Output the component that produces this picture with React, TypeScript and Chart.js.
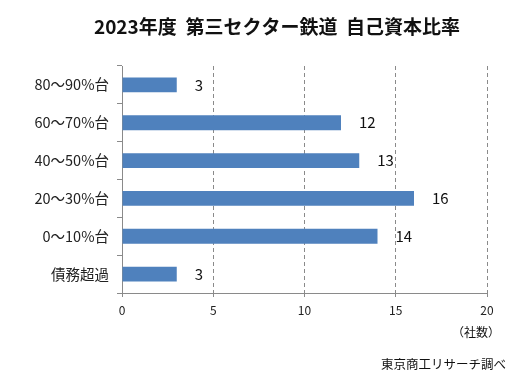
import React, { useEffect, useRef } from "react";
import { Chart, registerables } from "chart.js";

Chart.register(...registerables);

const categories = ["80～90%台", "60～70%台", "40～50%台", "20～30%台", "0～10%台", "債務超過"];
const companyCounts = [3, 12, 13, 16, 14, 3];
const xTicks = [0, 5, 10, 15, 20];
const titleText = "2023年度  第三セクター鉄道  自己資本比率";
const unitText = "（社数）";
const sourceText = "東京商工リサーチ調べ";

const FONT = "'Noto Sans CJK JP', 'Noto Sans', sans-serif";

const textPlugin = {
  id: "textPlugin",
  afterDatasetsDraw(chart: any) {
    const ctx = chart.ctx;
    const meta = chart.getDatasetMeta(0);
    ctx.save();
    ctx.fillStyle = "#111";
    ctx.font = `15px ${FONT}`;
    ctx.textAlign = "left";
    ctx.textBaseline = "middle";
    meta.data.forEach((el: any, i: number) => {
      ctx.fillText(String(companyCounts[i]), el.x + 18, el.y);
    });
    ctx.restore();
  },
  afterDraw(chart: any) {
    const ctx = chart.ctx;
    ctx.save();
    ctx.fillStyle = "#111";
    ctx.textBaseline = "middle";
    ctx.font = `bold 19px ${FONT}`;
    ctx.textAlign = "center";
    ctx.fillText(titleText, 277, 27);
    ctx.font = `12px ${FONT}`;
    ctx.textAlign = "right";
    ctx.fillText(unitText, 500, 332);
    ctx.font = `12.5px ${FONT}`;
    ctx.fillText(sourceText, 506, 364);
    ctx.restore();
  },
};

export default function App() {
  const ref = useRef<HTMLCanvasElement>(null);
  useEffect(() => {
    if (!ref.current) return;
    const chart = new Chart(ref.current, {
      type: "bar",
      data: {
        labels: categories,
        datasets: [
          {
            data: companyCounts,
            backgroundColor: "#4F81BD",
            borderWidth: 0,
            categoryPercentage: 1,
            barPercentage: 0.39,
          },
        ],
      },
      options: {
        indexAxis: "y",
        animation: false,
        responsive: false,
        maintainAspectRatio: false,
        layout: { padding: { top: 66, right: 31, left: 0, bottom: 0 } },
        plugins: {
          legend: { display: false },
          title: { display: false },
          tooltip: { enabled: false },
        },
        scales: {
          x: {
            type: "linear",
            min: 0,
            max: 20,
            afterBuildTicks(scale: any) {
              scale.ticks = xTicks.map((v) => ({ value: v }));
            },
            afterFit(scale: any) {
              scale.height = 89;
            },
            ticks: {
              color: "#222",
              font: { family: FONT, size: 12 },
              padding: 6,
            },
            grid: {
              color: (c: any) => (c.tick && c.tick.value === 0 ? "rgba(0,0,0,0)" : "#8a8a8a"),
              tickColor: "#8a8a8a",
              tickLength: 4,
              tickBorderDash: [],
            },
            border: { color: "#8a8a8a", dash: [4, 3] },
          },
          y: {
            type: "category",
            afterFit(scale: any) {
              scale.width = 122;
            },
            ticks: {
              color: "#222",
              font: { family: FONT, size: 14.5 },
              padding: 8,
            },
            grid: {
              offset: true,
              drawOnChartArea: false,
              tickLength: 5,
              color: "#8a8a8a",
            },
            border: { color: "#8a8a8a" },
          },
        },
      },
      plugins: [textPlugin],
    } as any);
    return () => chart.destroy();
  }, []);
  return (
    <div style={{ position: "absolute", left: 0, top: 0, width: 518, height: 382, background: "#fff" }}>
      <canvas ref={ref} width={518} height={382} style={{ display: "block" }} />
    </div>
  );
}
